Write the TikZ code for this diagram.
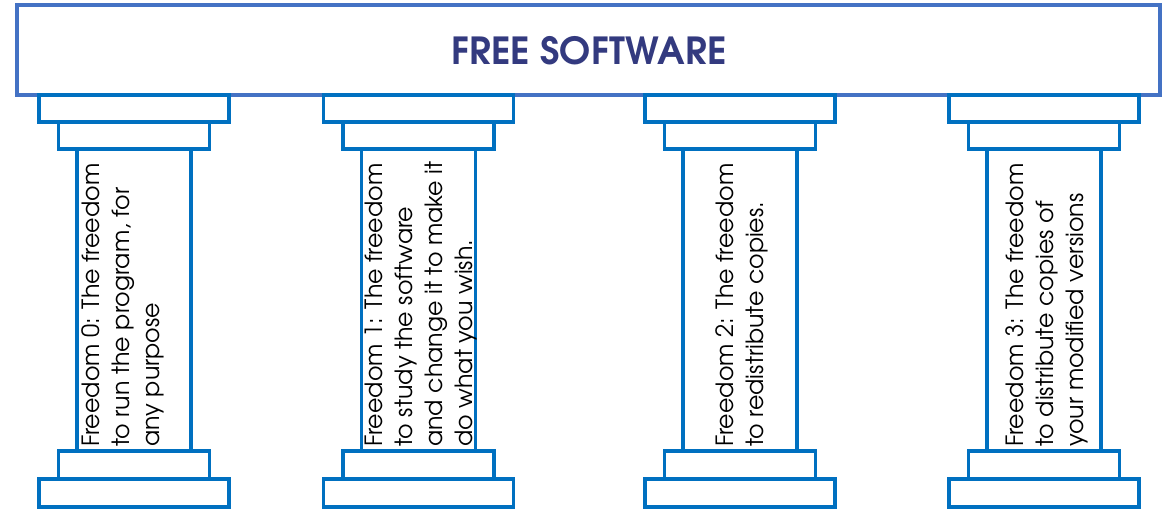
\documentclass[tikz,border=0pt]{standalone}
\usepackage{fontspec}
\setmainfont{TeX Gyre Adventor}
\definecolor{topblue}{HTML}{4472C4}
\definecolor{pilblue}{HTML}{0070C0}
\definecolor{titleblue}{HTML}{333A7F}
\begin{document}
\begin{tikzpicture}[x=0.75pt,y=-0.75pt,
  topbox/.style={draw=topblue,line width=2.4pt,fill=white},
  pil/.style={draw=pilblue,line width=2.4pt,fill=white},
  ftext/.style={rotate=90,anchor=north west,inner sep=0pt,align=left,
    font=\fontsize{17.8pt}{22.5pt}\selectfont,text=black},
  title/.style={font=\fontsize{28pt}{32pt}\selectfont\bfseries,text=titleblue}]
\useasboundingbox (0,0) rectangle (1171,512);
\draw[topbox] (17,5) rectangle (1160,95);
\node[title] (title) at (589,51) {FREE SOFTWARE};
\foreach \c/\n in {134/a,418.5/b,740/c,1044/d}{
  \draw[pil] (\c-95,95) rectangle (\c+95,122);
  \draw[pil] (\c-75.5,122) rectangle (\c+75.5,149);
  \draw[pil] (\c-57,149) rectangle (\c+57,451);
  \draw[pil] (\c-75.5,451) rectangle (\c+75.5,479);
  \draw[pil] (\c-95,479) rectangle (\c+95,507);
}
\node[ftext] (f0) at (81,447) {Freedom 0: The freedom\\to run the program, for\\any purpose};
\node[ftext] (f1) at (365,447) {Freedom 1: The freedom\\to study the software\\and change it to make it\\do what you wish.};
\node[ftext] (f2) at (715,447) {Freedom 2: The freedom\\to redistribute copies.};
\node[ftext] (f3) at (1005,447) {Freedom 3: The freedom\\to distribute copies of\\your modified versions};
\end{tikzpicture}
\end{document}
